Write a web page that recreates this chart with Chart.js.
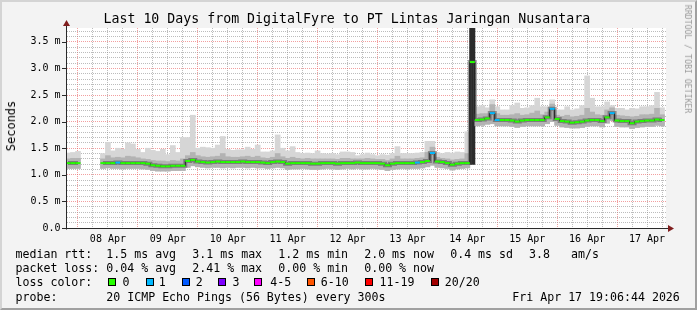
<!DOCTYPE html>
<html><head><meta charset="utf-8">
<script src="https://cdn.jsdelivr.net/npm/chart.js@4/dist/chart.umd.min.js"></script>
<style>
html,body{margin:0;padding:0;background:#f3f3f3;}
#wrap{position:relative;width:697px;height:310px;overflow:hidden;font-family:'DejaVu Sans Mono',monospace;color:#000;}
#frame{position:absolute;left:0;top:0;width:697px;height:310px;box-sizing:border-box;border:2px solid;border-color:#d4d4d4 #a0a0a0 #a0a0a0 #d4d4d4;background:#f3f3f3;}
#c{position:absolute;left:0;top:0;}
.t{position:absolute;white-space:pre;font-size:11.6px;line-height:14px;}
.b{position:absolute;top:278px;width:8px;height:8px;box-sizing:border-box;border:1px solid #000;}
#title{position:absolute;left:103.5px;top:11.3px;font-size:13.25px;line-height:16px;white-space:pre;}
#ylab{position:absolute;left:11px;top:126px;font-size:12px;line-height:14px;white-space:pre;transform:translate(-50%,-50%) rotate(-90deg);}
#wm{position:absolute;left:688px;top:59px;font-size:8.2px;line-height:10px;white-space:pre;color:#9a9a9a;transform:translate(-50%,-50%) rotate(90deg);}
</style>
</head><body>
<div id="wrap">
<div id="frame"></div>
<canvas id="c" width="697" height="310"></canvas>
<div id="title">Last 10 Days from DigitalFyre to PT Lintas Jaringan Nusantara</div>
<div id="ylab">Seconds</div>
<div id="wm">RRDTOOL / TOBI OETIKER</div>

<div class="t" style="left:15.5px;top:246.5px">median rtt:</div>
<div class="t" style="left:106.3px;top:246.5px">1.5 ms avg</div>
<div class="t" style="left:192.3px;top:246.5px">3.1 ms max</div>
<div class="t" style="left:278.3px;top:246.5px">1.2 ms min</div>
<div class="t" style="left:364.2px;top:246.5px">2.0 ms now</div>
<div class="t" style="left:450.2px;top:246.5px">0.4 ms sd</div>
<div class="t" style="left:529px;top:246.5px">3.8</div>
<div class="t" style="left:571px;top:246.5px">am/s</div>

<div class="t" style="left:15.5px;top:260.5px">packet loss:</div>
<div class="t" style="left:106.3px;top:260.5px">0.04 % avg</div>
<div class="t" style="left:192.3px;top:260.5px">2.41 % max</div>
<div class="t" style="left:278.3px;top:260.5px">0.00 % min</div>
<div class="t" style="left:364.2px;top:260.5px">0.00 % now</div>

<div class="t" style="left:15.5px;top:274.5px">loss color:</div>
<div class="b" style="left:108px;background:#26ff00"></div><div class="t" style="left:122.4px;top:274.5px">0</div>
<div class="b" style="left:146px;background:#00b8ff"></div><div class="t" style="left:158.8px;top:274.5px">1</div>
<div class="b" style="left:182px;background:#0059ff"></div><div class="t" style="left:195.8px;top:274.5px">2</div>
<div class="b" style="left:218px;background:#7e00ff"></div><div class="t" style="left:232.4px;top:274.5px">3</div>
<div class="b" style="left:254px;background:#ff00ff"></div><div class="t" style="left:270.2px;top:274.5px">4-5</div>
<div class="b" style="left:307px;background:#ff5500"></div><div class="t" style="left:320.8px;top:274.5px">6-10</div>
<div class="b" style="left:365px;background:#ff0000"></div><div class="t" style="left:379.5px;top:274.5px">11-19</div>
<div class="b" style="left:431px;background:#a10000"></div><div class="t" style="left:444.8px;top:274.5px">20/20</div>

<div class="t" style="left:15.5px;top:289.5px">probe:</div>
<div class="t" style="left:106.3px;top:289.5px">20 ICMP Echo Pings (56 Bytes) every 300s</div>
<div class="t" style="left:512.3px;top:289.5px">Fri Apr 17 19:06:44 2026</div>
</div>

<script>
// ---- data (2-hour bins, first bin at hour -4 relative to 08 Apr 00:00) ----
const startHour = -4;
const stepHours = 2;
const dayLabels = ['08 Apr','09 Apr','10 Apr','11 Apr','12 Apr','13 Apr','14 Apr','15 Apr','16 Apr','17 Apr'];

const median = [
  1.22, 1.22,
  1.22, null, null, null, null, 1.22, 1.22, 1.22, 1.23, 1.22, 1.22, 1.22,
  1.22, 1.22, 1.21, 1.18, 1.17, 1.16, 1.16, 1.17, 1.17, 1.17, 1.26, 1.28,
  1.25, 1.24, 1.23, 1.24, 1.25, 1.24, 1.24, 1.24, 1.24, 1.25, 1.24, 1.24,
  1.24, 1.23, 1.22, 1.24, 1.25, 1.24, 1.21, 1.22, 1.22, 1.22, 1.22, 1.21,
  1.21, 1.22, 1.22, 1.22, 1.21, 1.22, 1.22, 1.22, 1.23, 1.22, 1.22, 1.22,
  1.22, 1.21, 1.18, 1.21, 1.22, 1.22, 1.22, 1.22, 1.23, 1.24, 1.26, 1.41,
  1.25, 1.24, 1.22, 1.19, 1.21, 1.22, 1.22, 3.12, 2.03, 2.04, 2.06, 2.16,
  2.03, 2.03, 2.03, 2.02, 2.00, 2.02, 2.03, 2.03, 2.03, 2.03, 2.08, 2.24,
  2.05, 2.01, 2.00, 1.98, 1.99, 2.00, 2.02, 2.03, 2.03, 2.01, 2.08, 2.16,
  2.02, 2.01, 2.01, 1.97, 2.00, 2.01, 2.02, 2.02, 2.04, 2.03
];
const loss = [
  0, 0,
  0, null, null, null, null, 0, 0, 0, 1, 0, 0, 0,
  0, 0, 0, 0, 0, 0, 0, 0, 0, 0, 0, 0,
  0, 0, 0, 0, 0, 0, 0, 0, 0, 0, 0, 0,
  0, 0, 0, 0, 0, 0, 0, 0, 0, 0, 0, 0,
  0, 0, 0, 0, 0, 0, 0, 0, 0, 0, 0, 0,
  0, 0, 0, 0, 0, 0, 0, 0, 1, 0, 0, 1,
  0, 0, 0, 0, 0, 0, 0, 0, 0, 0, 0, 1,
  1, 0, 0, 0, 0, 0, 0, 0, 0, 0, 0, 1,
  0, 0, 0, 0, 0, 0, 0, 0, 0, 0, 0, 1,
  0, 0, 0, 0, 0, 0, 0, 0, 0, 0
];
const smokeMin = [
  1.12, 1.12,
  1.12, null, null, null, null, 1.12, 1.13, 1.12, 1.12, 1.11, 1.12, 1.12,
  1.12, 1.11, 1.10, 1.08, 1.07, 1.07, 1.07, 1.08, 1.08, 1.08, 1.14, 1.17,
  1.15, 1.14, 1.13, 1.14, 1.14, 1.13, 1.14, 1.13, 1.14, 1.14, 1.13, 1.14,
  1.13, 1.13, 1.12, 1.13, 1.14, 1.13, 1.10, 1.11, 1.11, 1.12, 1.11, 1.10,
  1.10, 1.11, 1.12, 1.11, 1.10, 1.11, 1.12, 1.11, 1.12, 1.11, 1.11, 1.12,
  1.11, 1.10, 1.08, 1.10, 1.11, 1.12, 1.11, 1.12, 1.12, 1.13, 1.15, 1.18,
  1.14, 1.13, 1.12, 1.09, 1.11, 1.12, 1.13, 1.20, 1.92, 1.93, 1.95, 1.96,
  1.92, 1.92, 1.92, 1.91, 1.89, 1.91, 1.92, 1.92, 1.92, 1.92, 1.96, 2.00,
  1.93, 1.90, 1.89, 1.88, 1.88, 1.89, 1.91, 1.92, 1.92, 1.90, 1.97, 2.02,
  1.91, 1.90, 1.90, 1.87, 1.89, 1.90, 1.91, 1.91, 1.93, 1.92
];
const smokeQ3 = [
  1.30, 1.31,
  1.31, null, null, null, null, 1.30, 1.36, 1.32, 1.33, 1.32, 1.35, 1.34,
  1.32, 1.30, 1.29, 1.27, 1.26, 1.26, 1.25, 1.27, 1.26, 1.30, 1.36, 1.42,
  1.36, 1.34, 1.33, 1.34, 1.35, 1.40, 1.34, 1.33, 1.33, 1.34, 1.35, 1.33,
  1.35, 1.32, 1.31, 1.33, 1.40, 1.34, 1.31, 1.33, 1.31, 1.30, 1.31, 1.30,
  1.30, 1.30, 1.30, 1.30, 1.29, 1.31, 1.31, 1.30, 1.30, 1.30, 1.31, 1.30,
  1.29, 1.29, 1.27, 1.30, 1.35, 1.30, 1.30, 1.30, 1.31, 1.32, 1.42, 1.52,
  1.33, 1.31, 1.30, 1.28, 1.29, 1.30, 1.40, 3.76, 2.14, 2.15, 2.15, 2.32,
  2.15, 2.12, 2.12, 2.13, 2.15, 2.12, 2.13, 2.16, 2.20, 2.13, 2.18, 2.33,
  2.12, 2.10, 2.12, 2.09, 2.10, 2.12, 2.25, 2.18, 2.13, 2.12, 2.22, 2.26,
  2.12, 2.11, 2.10, 2.09, 2.10, 2.13, 2.13, 2.14, 2.25, 2.13
];
const smokeMax = [
  1.41, 1.42,
  1.44, null, null, null, null, 1.40, 1.61, 1.45, 1.50, 1.48, 1.60, 1.58,
  1.48, 1.42, 1.50, 1.46, 1.44, 1.48, 1.38, 1.55, 1.42, 1.70, 1.70, 2.12,
  1.50, 1.52, 1.51, 1.50, 1.56, 1.72, 1.48, 1.46, 1.47, 1.47, 1.52, 1.48,
  1.56, 1.43, 1.43, 1.45, 1.75, 1.50, 1.45, 1.53, 1.42, 1.40, 1.41, 1.40,
  1.45, 1.40, 1.39, 1.40, 1.38, 1.43, 1.43, 1.42, 1.36, 1.38, 1.41, 1.38,
  1.36, 1.38, 1.37, 1.40, 1.53, 1.40, 1.40, 1.40, 1.41, 1.42, 1.63, 1.63,
  1.42, 1.40, 1.42, 1.41, 1.43, 1.42, 1.81, 3.76, 2.28, 2.30, 2.26, 2.41,
  2.28, 2.22, 2.22, 2.30, 2.35, 2.25, 2.26, 2.30, 2.44, 2.28, 2.28, 2.41,
  2.22, 2.22, 2.28, 2.22, 2.24, 2.30, 2.86, 2.44, 2.28, 2.28, 2.37, 2.30,
  2.25, 2.25, 2.22, 2.25, 2.24, 2.28, 2.28, 2.30, 2.55, 2.26
];
const lossColors = {0:'#26ff00', 1:'#00b8ff', 2:'#0059ff', 3:'#7e00ff'};

// ---- styles ----
const FONT = "'DejaVu Sans Mono', monospace";
const GRID = 'rgba(143,143,143,0.6)';
const MGRID = 'rgba(232,80,80,0.55)';
const AXIS = '#2a2a2a';
const ARROW = '#801e1e';

const hours = median.map((_, i) => startHour + i * stepHours);
const pts = arr => arr.map((v, i) => ({x: hours[i], y: v}));
const rng = (lo, hi) => lo.map((v, i) => ({x: hours[i], y: (v == null || hi[i] == null) ? null : [v, hi[i]]}));
const xTicks = []; for (let h = 0; h <= 234; h += 6) xTicks.push(h);
const yTicks = []; for (let k = 0; k <= 37; k++) yTicks.push(k / 10);
const isHalf = v => Math.abs(v * 2 - Math.round(v * 2)) < 1e-6;
const spread = c => { const r = c.raw && c.raw.y; return r && (r[1] - r[0] > 1.5); };

const deco = {
  id: 'deco',
  beforeDraw(ch) {
    const a = ch.chartArea, c = ch.ctx;
    c.save(); c.fillStyle = '#ffffff';
    c.fillRect(a.left, a.top, a.right - a.left, a.bottom - a.top);
    c.restore();
  },
  afterDraw(ch) {
    const a = ch.chartArea, c = ch.ctx, ys = ch.scales.y;
    c.save();
    c.strokeStyle = AXIS; c.lineWidth = 1;
    const x0 = a.left - 0.5, y0 = Math.round(ys.getPixelForValue(0)) + 0.5;
    c.beginPath();
    c.moveTo(x0, y0 + 1); c.lineTo(x0, a.top - 3);
    c.moveTo(a.left - 5, y0); c.lineTo(a.right + 3, y0);
    yTicks.filter(isHalf).forEach(v => {
      const y = Math.round(ys.getPixelForValue(v)) + 0.5;
      c.moveTo(a.left - 5, y); c.lineTo(a.left, y);
    });
    c.stroke();
    c.fillStyle = ARROW;
    c.beginPath();
    c.moveTo(x0, a.top - 8); c.lineTo(x0 - 3.5, a.top - 2); c.lineTo(x0 + 3.5, a.top - 2); c.closePath(); c.fill();
    c.beginPath();
    c.moveTo(a.right + 8, y0); c.lineTo(a.right + 2, y0 - 3.5); c.lineTo(a.right + 2, y0 + 3.5); c.closePath(); c.fill();
    c.restore();
  }
};

new Chart(document.getElementById('c'), {
  type: 'bar',
  data: {
    datasets: [
      {type: 'line', data: pts(median), stepped: 'middle', borderColor: '#1e1e1e', borderWidth: 1,
       pointStyle: 'line', pointRadius: 2.5, pointBorderWidth: 2,
       pointBorderColor: c => lossColors[loss[c.dataIndex]] || lossColors[0],
       pointBackgroundColor: 'rgba(0,0,0,0)', order: 0},
      {type: 'line', data: pts(median), stepped: 'middle', borderColor: 'rgba(70,70,70,0.5)', borderWidth: 4,
       pointRadius: 0, order: 1},
      {type: 'bar', data: rng(smokeMin, smokeQ3), grouped: false, barPercentage: 1, categoryPercentage: 1, borderWidth: 0,
       backgroundColor: c => spread(c) ? '#2b2b2b' : '#b3b3b3', order: 2},
      {type: 'bar', data: rng(smokeMin, smokeMax), grouped: false, barPercentage: 1, categoryPercentage: 1, borderWidth: 0,
       backgroundColor: c => spread(c) ? '#2b2b2b' : '#d6d6d6', order: 3}
    ]
  },
  options: {
    responsive: false, animation: false, devicePixelRatio: 1,
    layout: {padding: {left: 0, right: 31, top: 28, bottom: 0}},
    plugins: {legend: {display: false}, tooltip: {enabled: false}, title: {display: false}},
    scales: {
      x: {type: 'linear', min: -4.4, max: 235.6, offset: false,
          afterBuildTicks: s => { s.ticks = xTicks.map(v => ({value: v})); },
          afterFit: s => { s.height = 82; },
          grid: {offset: false, drawTicks: false, lineWidth: 1,
                 color: c => (c.tick && c.tick.value % 24 === 0) ? MGRID : GRID},
          border: {display: false, dash: [1, 1]},
          ticks: {autoSkip: false, maxRotation: 0, minRotation: 0, padding: 5, color: '#000',
                  font: {family: FONT, size: 10},
                  callback: v => { const d = (v - 12) / 24; return Number.isInteger(d) ? dayLabels[d] : ''; }}},
      y: {type: 'linear', min: 0, max: 3.76,
          afterBuildTicks: s => { s.ticks = yTicks.map(v => ({value: v})); },
          afterFit: s => { s.width = 67; },
          grid: {drawTicks: false, lineWidth: 1,
                 color: c => (c.tick && isHalf(c.tick.value)) ? MGRID : GRID},
          border: {display: false, dash: [1, 1]},
          ticks: {autoSkip: false, padding: 6.5, color: '#000', font: {family: FONT, size: 10},
                  callback: v => isHalf(v) ? (v === 0 ? '0.0' : v.toFixed(1) + ' m') : ''}}
    }
  },
  plugins: [deco]
});
</script>
</body></html>
